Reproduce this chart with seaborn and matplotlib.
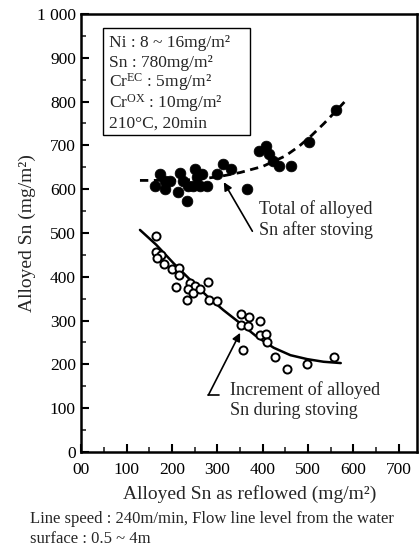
import numpy as np
import pandas as pd
import matplotlib
matplotlib.use("Agg")
import matplotlib.pyplot as plt
import seaborn as sns
from matplotlib.ticker import MultipleLocator
from matplotlib.patches import Rectangle

# ---- data ----
total_x = [173, 184, 162, 184, 196, 218, 224, 213, 236, 233, 251, 255, 266, 247, 262, 277,
           299, 313, 329, 366, 392, 407, 413, 422, 436, 462, 503, 562]
total_y = [634, 619, 607, 600, 619, 638, 619, 593, 607, 573, 645, 627, 634, 607, 607, 607,
           634, 657, 645, 600, 687, 699, 680, 664, 653, 653, 708, 780]

incr_x = [164, 164, 175, 166, 182, 199, 216, 216, 209, 240, 251, 234, 246, 261, 233, 279,
          282, 298, 351, 370, 353, 367, 393, 394, 408, 409, 356, 427, 453, 497, 558]
incr_y = [494, 456, 449, 443, 430, 418, 420, 405, 377, 386, 380, 371, 362, 371, 346, 388,
          346, 344, 316, 308, 291, 287, 298, 268, 270, 250, 233, 218, 190, 201, 217]

total_curve_x = [129, 200, 250, 300, 350, 400, 450, 480, 507, 535, 562, 580]
total_curve_y = [620, 620, 622, 628, 638, 652, 676, 698, 722, 750, 779, 799]

incr_curve_x = [129, 165, 203, 240, 277, 313, 350, 387, 424, 461, 498, 534, 572]
incr_curve_y = [507, 473, 431, 393, 356, 324, 294, 263, 238, 221, 212, 206, 203]

x_ticks = [0, 100, 200, 300, 400, 500, 600, 700]
x_ticklabels = ["00", "100", "200", "300", "400", "500", "600", "700"]
y_ticks = [0, 100, 200, 300, 400, 500, 600, 700, 800, 900, 1000]
y_ticklabels = ["0", "100", "200", "300", "400", "500", "600", "700", "800", "900", "1 000"]

info_lines = ["Ni : 8 ~ 16mg/m²", "Sn : 780mg/m²", r"Cr$^{\mathrm{EC}}$ : 5mg/m²",
              r"Cr$^{\mathrm{OX}}$ : 10mg/m²", "210°C, 20min"]

# ---- style ----
sns.set_theme(style="ticks")
plt.rcParams["font.family"] = ["Liberation Serif", "DejaVu Serif"]
plt.rcParams["mathtext.fontset"] = "custom"
plt.rcParams["mathtext.rm"] = "Liberation Serif"
plt.rcParams["mathtext.it"] = "Liberation Serif:italic"

fig = plt.figure(figsize=(4.19, 5.48), dpi=100)
ax = fig.add_axes([0.1945, 0.1752, 0.8005, 0.7993])

df_t = pd.DataFrame({"x": total_x, "y": total_y})
df_i = pd.DataFrame({"x": incr_x, "y": incr_y})
df_tc = pd.DataFrame({"x": total_curve_x, "y": total_curve_y})
df_ic = pd.DataFrame({"x": incr_curve_x, "y": incr_curve_y})

sns.lineplot(data=df_tc, x="x", y="y", ax=ax, color="black", lw=2.0,
             linestyle=(0, (3, 2)), sort=False, estimator=None)
sns.lineplot(data=df_ic, x="x", y="y", ax=ax, color="black", lw=1.8,
             sort=False, estimator=None)
sns.scatterplot(data=df_t, x="x", y="y", ax=ax, color="black", s=60,
                edgecolor="black", linewidth=0.5, zorder=3)
sns.scatterplot(data=df_i, x="x", y="y", ax=ax, facecolor="white", s=34,
                edgecolor="black", linewidth=1.4, zorder=3)

ax.set_xlim(0, 740)
ax.set_ylim(0, 1000)
ax.set_xticks(x_ticks)
ax.set_xticklabels(x_ticklabels)
ax.set_yticks(y_ticks)
ax.set_yticklabels(y_ticklabels)
ax.xaxis.set_minor_locator(MultipleLocator(50))
ax.yaxis.set_minor_locator(MultipleLocator(50))
ax.tick_params(which="major", direction="in", length=6, width=1.5, labelsize=12.5,
               colors="black")
ax.tick_params(which="minor", direction="in", length=3.5, width=1.2)
ax.tick_params(axis="x", which="major", pad=7)
ax.tick_params(axis="y", which="major", pad=4)
for sp in ax.spines.values():
    sp.set_visible(True)
    sp.set_linewidth(1.8)
    sp.set_color("black")

ax.set_xlabel("Alloyed Sn as reflowed (mg/m²)", fontsize=14, labelpad=5)
ax.set_ylabel("Alloyed Sn (mg/m²)", fontsize=14, labelpad=1)

# info box
ax.add_patch(Rectangle((0.064, 0.723), 0.438, 0.245, transform=ax.transAxes,
                       fc="white", ec="black", lw=1.0, zorder=4))
baselines = [0.925, 0.879, 0.833, 0.787, 0.741]
for line, yb in zip(info_lines, baselines):
    ax.text(0.083, yb, line, transform=ax.transAxes, fontsize=12.5, va="baseline",
            ha="left", zorder=5)

ax.text(392, 530, "Total of alloyed\nSn after stoving", fontsize=13, va="center",
        ha="left", linespacing=1.25)
ax.annotate("", xy=(314, 616), xytext=(377, 504),
            arrowprops=dict(arrowstyle="-|>", color="black", lw=1.2,
                            mutation_scale=12, shrinkA=0, shrinkB=0))

ax.text(328, 118, "Increment of alloyed\nSn during stoving", fontsize=13, va="center",
        ha="left", linespacing=1.25)
ax.annotate("", xy=(350, 272), xytext=(280, 130),
            arrowprops=dict(arrowstyle="-|>", color="black", lw=1.2,
                            mutation_scale=12, shrinkA=0, shrinkB=0))
ax.plot([280, 304], [130, 130], color="black", lw=1.2)

fig.text(30 / 419, 1 - 519 / 548, "Line speed : 240m/min, Flow line level from the water",
         fontsize=12, va="center", ha="left")
fig.text(30 / 419, 1 - 539 / 548, "surface : 0.5 ~ 4m", fontsize=12, va="center",
         ha="left")

fig.savefig("out.png", dpi=100)
